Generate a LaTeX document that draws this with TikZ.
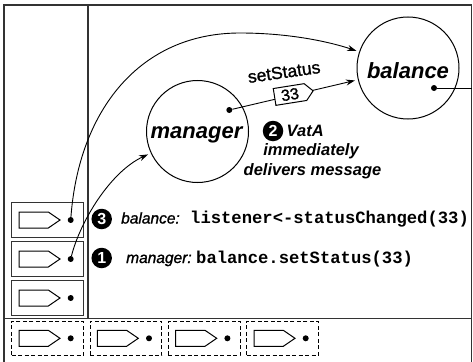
\documentclass[tikz,border=0pt]{standalone}
\usepackage{fontspec}
\setmainfont{Liberation Sans}
\setmonofont{Liberation Mono}
\newfontfamily\medsans[FakeBold=1.2]{Liberation Sans}
\usetikzlibrary{shapes.symbols,arrows.meta}
\begin{document}
\begin{tikzpicture}[x=1pt,y=-1pt,
  frame/.style={line width=1.3pt, draw=black!80},
  slot/.style={draw=black!80, line width=1.3pt, minimum width=71.6pt, minimum height=35.5pt, inner sep=0},
  qslot/.style={draw=black, line width=0.9pt, dash pattern=on 4pt off 2.5pt, minimum width=71.6pt, minimum height=34.5pt, inner sep=0},
  tagline/.style={line width=1pt, draw=black},
  obj/.style={circle, draw=black, line width=1pt, minimum size=102pt, inner sep=0},
  objtxt/.style={inner sep=0, font=\fontsize{22}{26}\selectfont\bfseries\itshape},
  arr/.style={-{Stealth[length=9pt,width=6pt]}, line width=0.9pt, shorten >=3pt},
  conn/.style={line width=0.9pt},
  dot/.style={circle, fill=black, inner sep=0, minimum size=6pt},
  num/.style={circle, fill=black, text=white, inner sep=0, minimum size=20.5pt, font=\fontsize{16}{16}\selectfont\bfseries},
  msg/.style={inner sep=0, font=\fontsize{16.5}{18}\selectfont\bfseries\itshape},
  who/.style={inner sep=0, font=\fontsize{15.5}{16}\selectfont\medsans\itshape},
  codetxt/.style={inner sep=0, font=\fontsize{17.2}{18}\selectfont\ttfamily\bfseries},
  tagnode/.style={shape=signal, signal to=east, signal pointer angle=95, draw=black, fill=white, line width=1pt, minimum height=17pt, minimum width=39pt, inner xsep=3pt, inner ysep=0, font=\fontsize{16}{16}\selectfont\medsans}
]
\useasboundingbox (0,0) rectangle (473,361);
% frame
\draw[frame] (4,362) -- (4,5) -- (471.5,5) -- (471.5,362);
\draw[frame] (88,5) -- (88,318.3);
\draw[frame] (4,318.3) -- (471.5,318.3);

% stack slots
\node[slot] (s1) at (47.5,220) {};
\node[slot] (s2) at (47.5,259) {};
\node[slot] (s3) at (47.5,298) {};
\foreach \cy in {220,259,298} {
  \draw[tagline] (19,\cy-8) -- (48.3,\cy-8) -- (60,\cy) -- (48.3,\cy+8) -- (19,\cy+8) -- cycle;
}
\node[dot] (d1) at (70.7,220) {};
\node[dot] (d2) at (70.7,259) {};
\node[dot] (d3) at (70.7,298) {};

% queue slots
\node[qslot] (q1) at (47.5,338.3) {};
\node[qslot] (q2) at (125.8,338.3) {};
\node[qslot] (q3) at (204.2,338.3) {};
\node[qslot] (q4) at (282.5,338.3) {};
\foreach \cx/\nm in {47.5/e1,125.8/e2,204.2/e3,282.5/e4} {
  \draw[tagline] (\cx-28.5,330.3) -- (\cx+0.8,330.3) -- (\cx+12.5,338.3) -- (\cx+0.8,346.3) -- (\cx-28.5,346.3) -- cycle;
  \node[dot] (\nm) at (\cx+23.2,338.3) {};
}

% objects
\node[obj] (manager) at (197.5,131.5) {};
\node[objtxt, anchor=base] (managerlbl) at (196.5,138.3) {manager};
\node[obj] (balance) at (408,68) {};
\node[objtxt, anchor=base] (balancelbl) at (408,78.3) {balance};
\node[dot] (mdot) at (229.3,110) {};
\node[dot] (bdot) at (434,88) {};
\coordinate (bout) at (471.5,88);
\draw[conn] (bdot) -- (bout);

% messages
\draw[arr] (mdot) -- (balance);
\node[tagnode, rotate=9] (tag33) at (290,94.5) {33};
\node[inner sep=0, rotate=8, font=\fontsize{17.5}{18}\selectfont\medsans] (ss) at (284,72) {setStatus};

\coordinate (apex) at (240,33);
\draw[arr] (d1) .. controls (79,110) and (140,33) .. (apex) .. controls (290,33) and (330,42) .. (balance);
\draw[arr] (d2) .. controls (80,222) and (110,172) .. (manager);

% annotations
\node[num] (n2) at (273,131) {2};
\node[msg, anchor=base west] (vata) at (286.5,136.7) {VatA};
\node[msg, anchor=base] (imm) at (311,155) {immediately};
\node[msg, anchor=base] (deliv) at (312.5,175) {delivers message};

\node[num] (n3) at (101.7,219) {3};
\node[who, anchor=base west] (l3a) at (121,223.5) {balance:};
\node[codetxt, anchor=base west] (l3b) at (190,223.5) {listener<-statusChanged(33)};

\node[num] (n1) at (101.7,258) {1};
\node[who, anchor=base west] (l1a) at (126,263) {manager:};
\node[codetxt, anchor=base west] (l1b) at (196,263) {balance.setStatus(33)};
\end{tikzpicture}
\end{document}
